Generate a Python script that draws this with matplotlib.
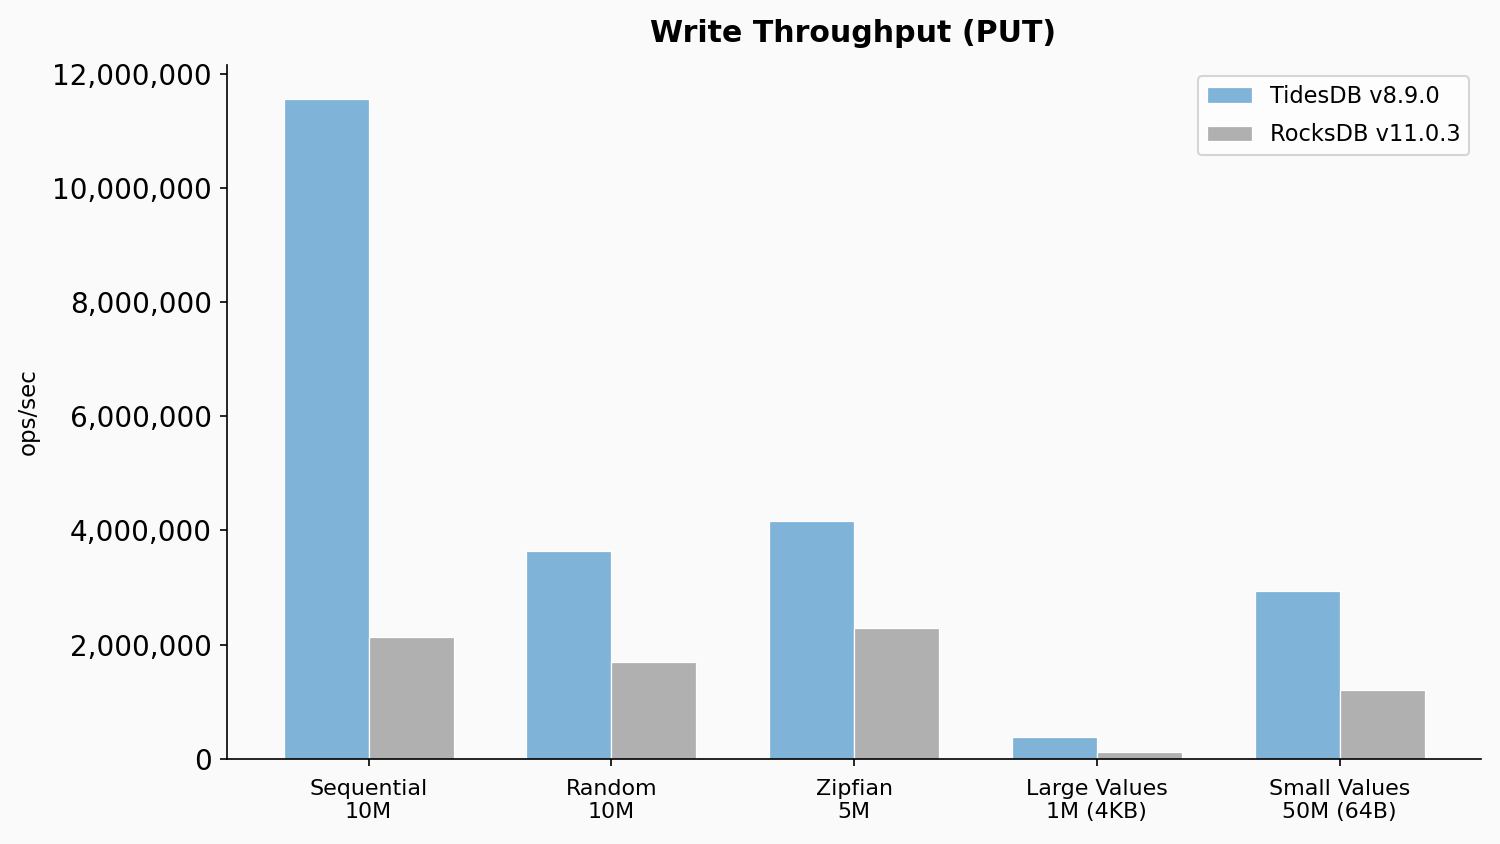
import matplotlib

matplotlib.use("Agg")
import matplotlib.pyplot as plt
import numpy as np
from matplotlib.ticker import FuncFormatter

categories = ["Sequential\n10M", "Random\n10M", "Zipfian\n5M", "Large Values\n1M (4KB)", "Small Values\n50M (64B)"]
tidesdb = [11_560_000, 3_630_000, 4_170_000, 380_000, 2_940_000]
rocksdb = [2_140_000, 1_700_000, 2_290_000, 120_000, 1_210_000]
series_names = ["TidesDB v8.9.0", "RocksDB v11.0.3"]

bg = "#fafafa"
fig, ax = plt.subplots(figsize=(10, 5.627), dpi=150)
fig.patch.set_facecolor(bg)
ax.set_facecolor(bg)

x = np.arange(len(categories))
w = 0.35
ax.bar(x - w / 2, tidesdb, w, color="#7fb3d8", edgecolor="white", linewidth=0.6, label=series_names[0])
ax.bar(x + w / 2, rocksdb, w, color="#b0b0b0", edgecolor="white", linewidth=0.6, label=series_names[1])

ax.set_xticks(x)
ax.set_xticklabels(categories, fontsize=10.6)
ax.tick_params(axis="x", pad=6)
ax.set_xlim(-0.585, 4.58)
ax.set_ylim(0, 12_150_000)
ax.set_yticks(np.arange(0, 12_000_001, 2_000_000))
ax.yaxis.set_major_formatter(FuncFormatter(lambda v, _: f"{int(v):,}"))
ax.tick_params(axis="y", labelsize=13.4)
ax.set_ylabel("ops/sec", fontsize=11, labelpad=6)
ax.set_title("Write Throughput (PUT)", fontsize=14.4, fontweight="bold", pad=11)

for side in ("top", "right"):
    ax.spines[side].set_visible(False)

leg = ax.legend(loc="upper right", fontsize=10.8, frameon=True, fancybox=True,
                labelspacing=0.67, borderpad=0.4, handlelength=2.0)
leg.get_frame().set_facecolor("white")

fig.subplots_adjust(left=0.151, right=0.987, top=0.923, bottom=0.101)
fig.savefig("out.png", dpi=150, facecolor=bg)
plt.close(fig)
